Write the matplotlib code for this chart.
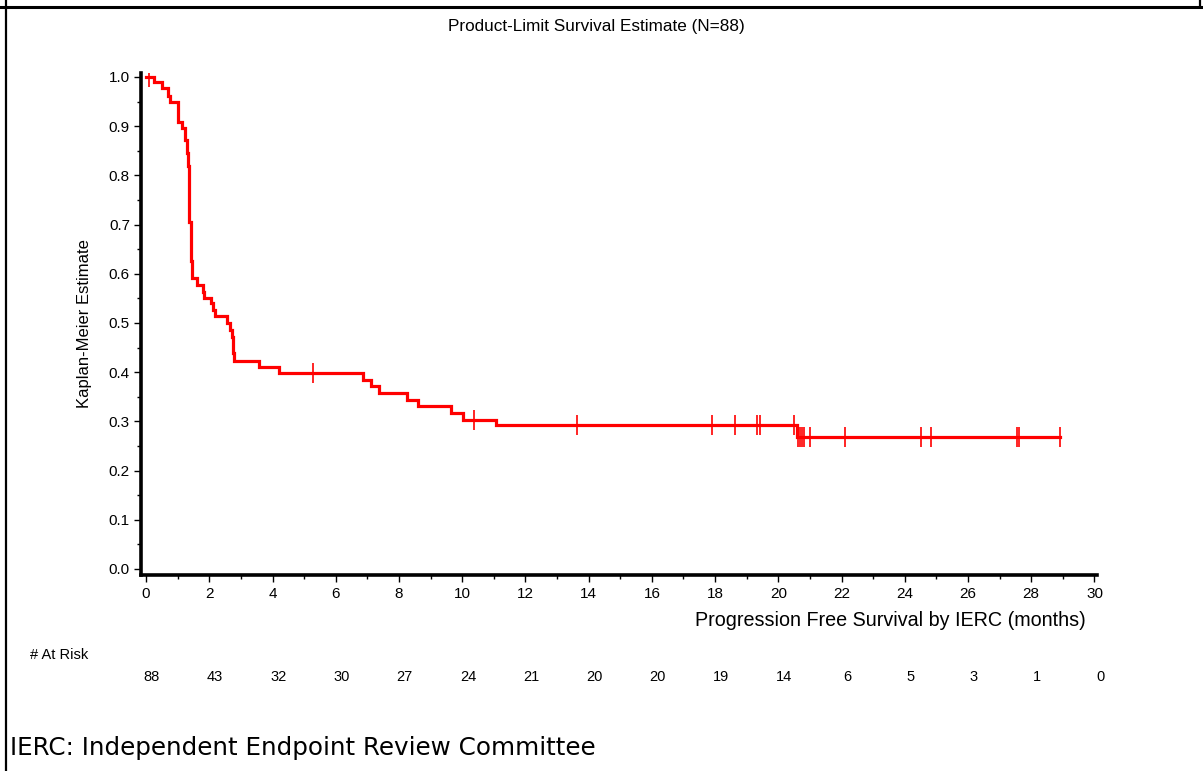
import numpy as np
import matplotlib
matplotlib.use("Agg")
import matplotlib.pyplot as plt
import matplotlib.transforms as mtransforms
from matplotlib.lines import Line2D

# step curve (time of drop, survival after drop)
times = [0.0, 0.25, 0.51, 0.68, 0.75, 1.01, 1.15, 1.22, 1.29, 1.33, 1.36, 1.37, 1.41, 1.45,
         1.60, 1.79, 1.83, 2.05, 2.11, 2.18, 2.57, 2.66, 2.71, 2.74, 2.79, 3.57, 4.20,
         6.87, 7.10, 7.37, 8.24, 8.61, 9.66, 10.01, 11.07, 20.59, 28.92]
surv = [1.0, 0.989, 0.977, 0.961, 0.949, 0.909, 0.897, 0.872, 0.846, 0.820, 0.782, 0.705, 0.627, 0.591,
        0.577, 0.564, 0.550, 0.540, 0.526, 0.515, 0.499, 0.486, 0.472, 0.438, 0.423, 0.411, 0.398,
        0.384, 0.372, 0.358, 0.343, 0.332, 0.318, 0.303, 0.293, 0.269, 0.269]

# censored times
censor_t = [0.09, 5.27, 10.37, 13.62, 17.90, 18.62, 19.33, 19.41, 20.50,
            20.62, 20.68, 20.74, 20.81, 20.99, 22.12, 24.52, 24.84, 27.55, 27.60, 28.92]

risk_t = [0, 2, 4, 6, 8, 10, 12, 14, 16, 18, 20, 22, 24, 26, 28, 30]
risk_n = [88, 43, 32, 30, 27, 24, 21, 20, 20, 19, 14, 6, 5, 3, 1, 0]

arial = ['Liberation Sans', 'DejaVu Sans']

fig = plt.figure(figsize=(12.03, 7.71), dpi=100)
ax = fig.add_axes([141/1203, 1-575/771, (1097-141)/1203, (575-73)/771])

ax.step(times, surv, where='post', color='#ff0000', lw=2.3, solid_joinstyle='miter')
idx = np.searchsorted(times, censor_t, side='right') - 1
cs = np.array(surv)[idx]
ax.plot(censor_t, cs, ls='none', marker='|', ms=14.5, mew=1.2, color='#ff0000')

ax.set_xlim(-0.16, 30.08)
ax.set_ylim(-0.0122, 1.0081)
ax.set_xticks(np.arange(0, 31, 2))
ax.set_xticks(np.arange(0, 31, 1), minor=True)
ax.set_yticks(np.arange(0, 1.01, 0.1))
ax.set_yticks(np.arange(0, 1.01, 0.05), minor=True)
ax.set_yticklabels(['%.1f' % v for v in np.arange(0, 1.01, 0.1)])
for s in ['top', 'right']:
    ax.spines[s].set_visible(False)
for s in ['left', 'bottom']:
    ax.spines[s].set_linewidth(2.6)
ax.tick_params(which='major', direction='out', length=5, width=1, labelsize=11, colors='black')
ax.tick_params(which='minor', direction='out', length=3, width=1)
ax.tick_params(axis='x', pad=4)
ax.tick_params(axis='y', pad=3)
for lab in ax.get_xticklabels() + ax.get_yticklabels():
    lab.set_family(arial)

ax.set_ylabel('Kaplan-Meier Estimate', family=arial, fontsize=12, labelpad=12)
fig.text(1086/1203, 1-621/771, 'Progression Free Survival by IERC (months)', family=arial,
         fontsize=14.2, ha='right', va='center')
fig.text(596/1203, 1-27/771, 'Product-Limit Survival Estimate (N=88)', family=arial,
         fontsize=12.3, ha='center', va='center')

trans = mtransforms.blended_transform_factory(ax.transData, fig.transFigure)
fig.text(30/1203, 1-655/771, '# At Risk', family=arial, fontsize=10.5, ha='left', va='center')
for t, n in zip(risk_t, risk_n):
    ax.text(t + 0.18, 1-677/771, str(n), transform=trans, family=arial, fontsize=10.5,
            ha='center', va='center', clip_on=False)

fig.text(10/1203, 1-748/771, 'IERC: Independent Endpoint Review Committee', family='DejaVu Sans',
         fontsize=17.7, ha='left', va='center')

# table cell borders
fig.add_artist(Line2D([6/1203, 6/1203], [0, 1], transform=fig.transFigure, color='black', lw=1.6))
fig.add_artist(Line2D([0, 1], [1-7/771, 1-7/771], transform=fig.transFigure, color='black', lw=2.2))
fig.add_artist(Line2D([1200/1203, 1200/1203], [1-7/771, 1], transform=fig.transFigure, color='black', lw=1.6))

fig.savefig('out.png', dpi=100)
